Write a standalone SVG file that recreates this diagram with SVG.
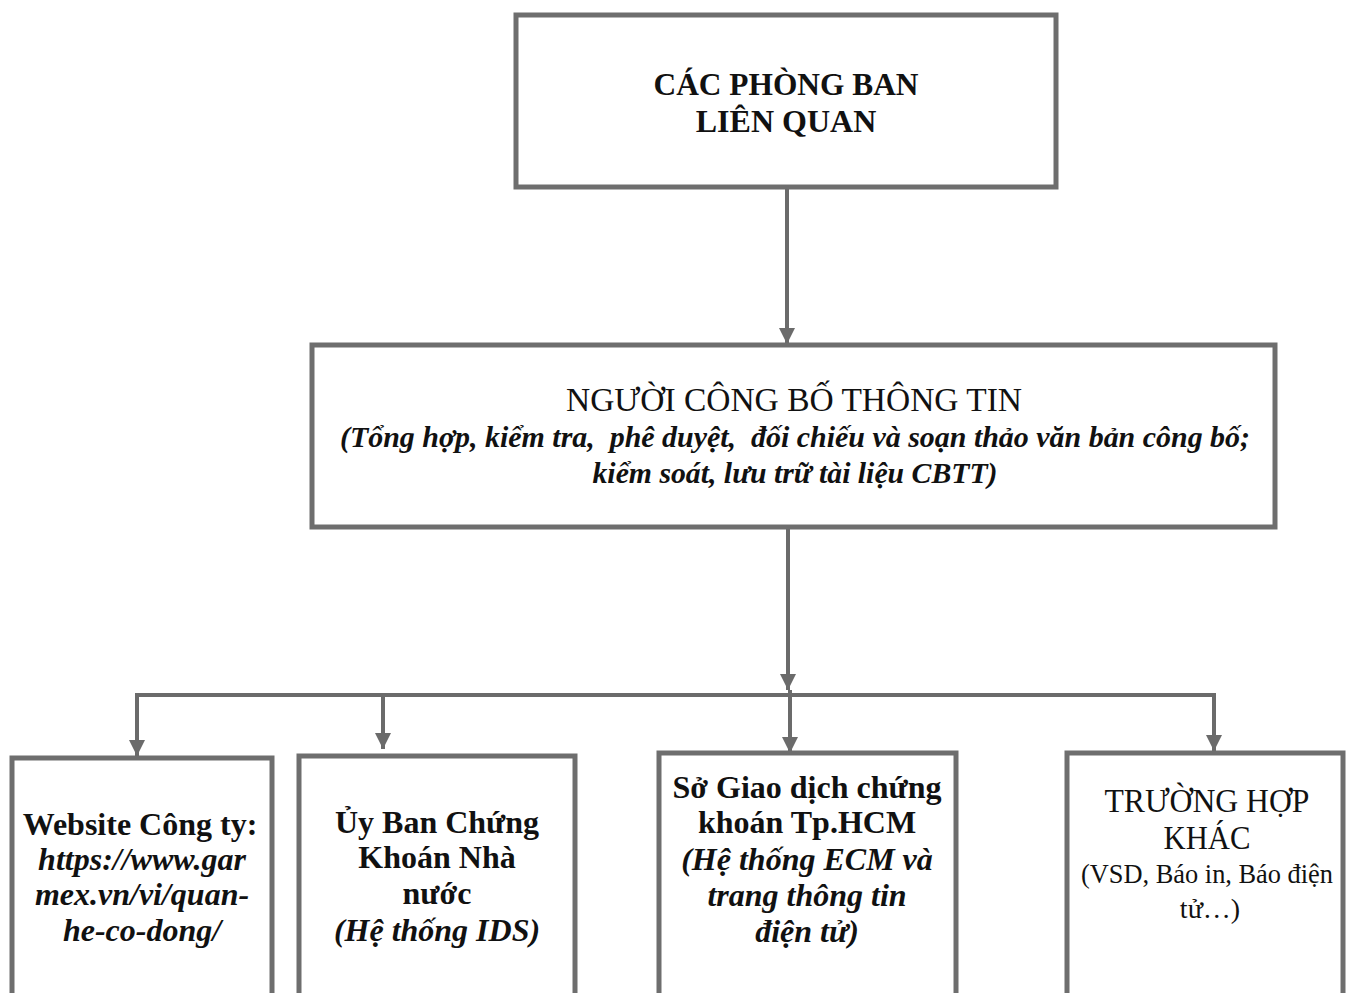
<svg xmlns="http://www.w3.org/2000/svg" width="1347" height="993" viewBox="0 0 1347 993">
<defs>
<marker id="ah" viewBox="0 0 10 10" refX="10" refY="5" markerWidth="4.5" markerHeight="4" orient="auto" markerUnits="strokeWidth">
<path d="M0,0 L10,5 L0,10 Z" fill="#6b6b6b"/>
</marker>
<style>
.box{fill:#fff;stroke:#6e6e6e;stroke-width:5}
.ln{fill:none;stroke:#6b6b6b;stroke-width:4}
text{font-family:"Liberation Serif","Times New Roman",serif;fill:#111;text-anchor:middle;white-space:pre}
.b{font-weight:bold}
.bi{font-weight:bold;font-style:italic}
.i{font-style:italic}
</style>
</defs>
<rect width="1347" height="993" fill="#fff"/>
<g id="connectors">
<line class="ln" x1="787" y1="188" x2="787" y2="344" marker-end="url(#ah)"/>
<line class="ln" x1="788" y1="528" x2="788" y2="690" marker-end="url(#ah)"/>
<polyline class="ln" points="137,755 137,695 1214,695 1214,751" />
<line class="ln" x1="137" y1="700" x2="137" y2="756" marker-end="url(#ah)"/>
<line class="ln" x1="383" y1="695" x2="383" y2="749" marker-end="url(#ah)"/>
<line class="ln" x1="790" y1="690" x2="790" y2="753" marker-end="url(#ah)"/>
<line class="ln" x1="1214" y1="700" x2="1214" y2="751" marker-end="url(#ah)"/>
</g>
<g id="node-phongban">
<rect class="box" x="516" y="15" width="540" height="172"/>
<text class="b" x="786" y="95" font-size="32" textLength="265" lengthAdjust="spacingAndGlyphs">CÁC PHÒNG BAN</text>
<text class="b" x="786" y="132" font-size="32">LIÊN QUAN</text>
</g>
<g id="node-nguoicongbo">
<rect class="box" x="312" y="345" width="963" height="182"/>
<text x="794" y="411" font-size="34" textLength="456" lengthAdjust="spacingAndGlyphs">NGƯỜI CÔNG BỐ THÔNG TIN</text>
<text class="bi" x="795" y="447" font-size="30" textLength="910" lengthAdjust="spacingAndGlyphs">(Tổng hợp, kiểm tra,  phê duyệt,  đối chiếu và soạn thảo văn bản công bố;</text>
<text class="bi" x="795" y="483" font-size="30" textLength="405" lengthAdjust="spacingAndGlyphs">kiểm soát, lưu trữ tài liệu CBTT)</text>
</g>
<g id="node-website">
<rect class="box" x="12" y="758" width="260" height="240"/>
<text class="b" x="140" y="835" font-size="32">Website Công ty:</text>
<text class="bi" x="142" y="870" font-size="32">https://www.gar</text>
<text class="bi" x="142" y="905" font-size="32">mex.vn/vi/quan-</text>
<text class="bi" x="142" y="941" font-size="32">he-co-dong/</text>
</g>
<g id="node-ubck">
<rect class="box" x="299" y="756" width="276" height="242"/>
<text class="b" x="437" y="833" font-size="32">Ủy Ban Chứng</text>
<text class="b" x="437" y="868" font-size="32">Khoán Nhà</text>
<text class="b" x="437" y="904" font-size="32">nước</text>
<text class="bi" x="437" y="941" font-size="32">(Hệ thống IDS)</text>
</g>
<g id="node-hose">
<rect class="box" x="659" y="753" width="297" height="245"/>
<text class="b" x="807" y="798" font-size="32">Sở Giao dịch chứng</text>
<text class="b" x="807" y="833" font-size="32">khoán Tp.HCM</text>
<text class="bi" x="807" y="870" font-size="32">(Hệ thống ECM và</text>
<text class="bi" x="807" y="906" font-size="32">trang thông tin</text>
<text class="bi" x="807" y="942" font-size="32">điện tử)</text>
</g>
<g id="node-khac">
<rect class="box" x="1067" y="753" width="276" height="245"/>
<text x="1207" y="812" font-size="34" textLength="205" lengthAdjust="spacingAndGlyphs">TRƯỜNG HỢP</text>
<text x="1207" y="849" font-size="34" textLength="87" lengthAdjust="spacingAndGlyphs">KHÁC</text>
<text x="1207" y="883" font-size="27" textLength="252" lengthAdjust="spacingAndGlyphs">(VSD, Báo in, Báo điện</text>
<text x="1210" y="918" font-size="28">tử…)</text>
</g>
</svg>
